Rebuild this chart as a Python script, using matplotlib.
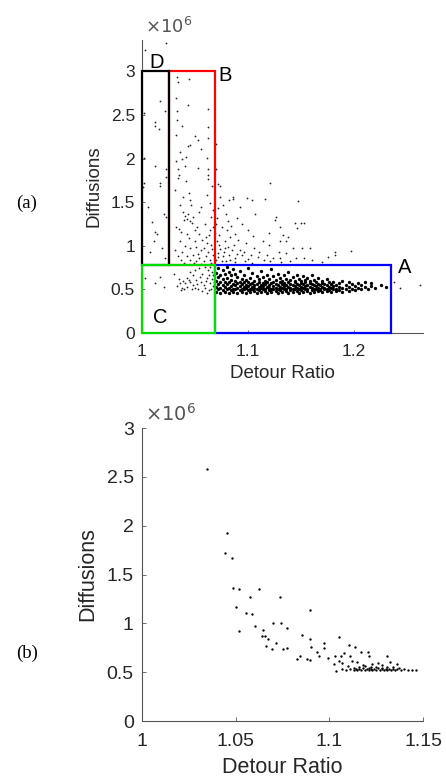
import matplotlib
matplotlib.use("Agg")
from matplotlib import pyplot as plt
from matplotlib.patches import Rectangle

plt.rcParams['font.family'] = ['Liberation Sans', 'DejaVu Sans']

# ---- (a) all routes: scattered points (detour ratio, diffusions in 1e6) ----
top_sparse = [
    (1.0026, 3.24), (1.023, 3.33), (1.0167, 2.66), (1.0214, 2.55), (1.002, 2.52),
    (1.0126, 2.42), (1.012, 2.37), (1.0158, 2.34), (1.002, 2.01), (1.0126, 1.91),
    (1.023, 1.885), (1.0225, 1.79), (1.002, 1.72), (1.017, 1.72), (1.0205, 1.37),
    (1.0126, 1.16), (1.014, 1.14), (1.023, 1.33), (1.001, 1.67), (1.017, 1.69),
    (1.0075, 0.93), (1.011, 1.05), (1.006, 1.45), (1.019, 0.98), (1.022, 0.86),
    (1.009, 1.27),
    (1.0334, 2.94), (1.0443, 2.91), (1.0338, 2.88), (1.0324, 2.69), (1.0434, 2.61),
    (1.0623, 2.57), (1.033, 2.55), (1.0334, 2.44), (1.038, 2.37), (1.0623, 2.36),
    (1.0325, 2.27), (1.0497, 2.26), (1.0528, 2.21), (1.045, 2.16), (1.0623, 2.24),
    (1.0434, 2.14), (1.0554, 2.11), (1.0356, 2.08), (1.0419, 2.02), (1.038, 2.0),
    (1.0616, 2.01), (1.0325, 1.97), (1.0403, 1.91), (1.0528, 1.89), (1.0335, 1.88),
    (1.0623, 1.88), (1.0345, 1.81), (1.0623, 1.81), (1.034, 1.78), (1.0623, 1.77),
    (1.0419, 1.74), (1.045, 1.53), (1.046, 1.47), (1.036, 1.47), (1.039, 1.39),
    (1.043, 1.37), (1.042, 1.31), (1.045, 1.29), (1.048, 1.33), (1.054, 1.39),
    (1.059, 1.25), (1.064, 1.49), (1.0324, 1.22), (1.037, 1.16), (1.042, 1.14),
    (1.0497, 1.18), (1.054, 1.14), (1.06, 1.10), (1.064, 1.18), (1.036, 1.06),
    (1.0403, 1.0), (1.045, 0.97), (1.051, 0.99), (1.056, 0.95), (1.062, 0.93),
    (1.031, 0.95), (1.034, 0.88), (1.042, 0.88), (1.048, 0.90), (1.054, 0.86),
    (1.06, 0.88), (1.064, 0.84), (1.037, 0.84), (1.045, 0.84), (1.051, 0.82),
    (1.058, 0.82), (1.065, 1.01), (1.065, 1.33), (1.066, 1.68), (1.031, 1.64),
    (1.039, 1.56), (1.044, 1.60), (1.040, 1.30), (1.041, 1.34), (1.047, 1.26),
    (1.052, 1.22), (1.057, 1.07), (1.061, 1.03), (1.066, 0.96), (1.067, 0.89),
    (1.063, 1.12), (1.050, 1.05), (1.044, 1.09), (1.038, 0.93), (1.053, 0.91),
    (1.058, 0.98), (1.067, 1.22), (1.067, 1.41), (1.061, 1.58), (1.056, 1.45),
    (1.035, 1.19), (1.049, 0.80), (1.04, 0.80), (1.065, 0.80), (1.056, 0.79),
    (1.0702, 2.17), (1.07, 1.88), (1.0733, 1.68), (1.1205, 1.72), (1.0717, 1.71),
    (1.0733, 1.56), (1.0717, 1.43), (1.076, 1.47), (1.0796, 1.37), (1.0858, 1.54),
    (1.092, 1.45), (1.07, 1.25), (1.075, 1.22), (1.08, 1.18), (1.084, 1.23),
    (1.088, 1.14), (1.094, 1.25), (1.1, 1.18), (1.073, 1.12), (1.078, 1.06),
    (1.073, 1.01), (1.081, 0.99), (1.087, 1.01), (1.092, 0.95), (1.098, 1.03),
    (1.106, 0.97), (1.114, 1.06), (1.12, 1.01), (1.129, 0.93), (1.136, 1.06),
    (1.072, 0.92), (1.076, 0.88), (1.082, 0.90), (1.088, 0.86), (1.094, 0.89),
    (1.1, 0.85), (1.109, 0.87), (1.115, 0.84), (1.124, 0.86), (1.07, 0.84),
    (1.079, 0.82), (1.107, 1.37), (1.126, 1.33), (1.104, 1.52), (1.147, 1.51),
    (1.144, 1.26), (1.153, 1.26), (1.146, 1.20), (1.138, 1.10), (1.13, 1.22),
    (1.13, 1.06), (1.142, 0.97), (1.151, 0.97), (1.158, 0.97), (1.182, 0.93),
    (1.197, 0.94), (1.136, 0.92), (1.153, 0.86), (1.175, 0.87), (1.182, 0.89),
    (1.13, 0.86), (1.145, 0.86), (1.125, 1.30), (1.15, 1.26), (1.086, 1.56),
    (1.099, 1.55), (1.116, 1.54), (1.082, 1.53), (1.133, 1.12), (1.071, 1.05),
    (1.074, 0.96), (1.077, 0.93), (1.072, 0.87), (1.075, 0.83), (1.083, 0.84),
    (1.085, 0.95), (1.090, 0.91), (1.096, 0.93), (1.103, 0.90), (1.110, 0.93),
    (1.118, 0.90), (1.121, 0.82), (1.131, 0.81), (1.140, 0.83), (1.160, 0.84),
    (1.170, 0.81), (1.088, 0.81), (1.097, 0.82), (1.104, 0.80), (1.078, 0.98),
    (1.083, 1.10), (1.091, 1.07), (1.069, 1.15), (1.071, 1.32), (1.081, 1.28),
    (1.09, 1.32), (1.12, 1.15), (1.105, 1.11), (1.238, 0.58), (1.262, 0.55),
    (1.243, 0.52),
    (1.0356, 0.57), (1.039, 0.60), (1.042, 0.63), (1.045, 0.58), (1.048, 0.55),
    (1.051, 0.61), (1.056, 0.58), (1.061, 0.63), (1.064, 0.57), (1.042, 0.53),
    (1.053, 0.50), (1.059, 0.52), (1.065, 0.50), (1.048, 0.66), (1.057, 0.68),
    (1.062, 0.72), (1.054, 0.74), (1.045, 0.70), (1.037, 0.49), (1.061, 0.46),
    (1.017, 0.64), (1.03, 0.68), (1.021, 0.53), (1.012, 0.57), (1.003, 0.63),
    (1.033, 0.54), (1.040, 0.50), (1.044, 0.61), (1.050, 0.52), (1.052, 0.56),
    (1.055, 0.64), (1.058, 0.55), (1.060, 0.60), (1.063, 0.66), (1.066, 0.62),
    (1.067, 0.54), (1.066, 0.70), (1.064, 0.76), (1.059, 0.76), (1.050, 0.72),
    (1.047, 0.50), (1.057, 0.48), (1.063, 0.49), (1.041, 0.57), (1.038, 0.52),
    (1.068, 0.58), (1.067, 0.66), (1.035, 0.62),
]

# dense band of the main cluster: detour ratio -> diffusions (1e6)
top_core = [
    (1.070, [0.47, 0.53, 0.60, 0.69]), (1.072, [0.50, 0.56, 0.64, 0.75]),
    (1.074, [0.46, 0.52, 0.58, 0.66]), (1.076, [0.49, 0.55, 0.62, 0.72]),
    (1.078, [0.47, 0.53, 0.59, 0.68]), (1.080, [0.50, 0.56, 0.63, 0.76]),
    (1.082, [0.46, 0.52, 0.58, 0.70]), (1.084, [0.49, 0.54, 0.61, 0.66]),
    (1.086, [0.47, 0.51, 0.56, 0.73]), (1.088, [0.50, 0.55, 0.60, 0.68]),
    (1.090, [0.46, 0.52, 0.57, 0.64]), (1.092, [0.49, 0.54, 0.59, 0.71]),
    (1.094, [0.47, 0.51, 0.56, 0.62]), (1.096, [0.50, 0.53, 0.58, 0.67]),
    (1.098, [0.46, 0.52, 0.55, 0.61]), (1.100, [0.49, 0.54, 0.59, 0.74]),
    (1.102, [0.47, 0.51, 0.56, 0.63]), (1.104, [0.50, 0.53, 0.57, 0.69]),
    (1.106, [0.48, 0.52, 0.55, 0.60]), (1.108, [0.46, 0.51, 0.56, 0.65]),
    (1.110, [0.49, 0.53, 0.58, 0.62]), (1.112, [0.47, 0.52, 0.55, 0.71]),
    (1.114, [0.50, 0.54, 0.57, 0.64]), (1.116, [0.48, 0.51, 0.56, 0.60]),
    (1.118, [0.46, 0.53, 0.58, 0.67]), (1.120, [0.49, 0.52, 0.55, 0.62]),
    (1.122, [0.47, 0.51, 0.57, 0.73]), (1.124, [0.50, 0.54, 0.59, 0.65]),
    (1.126, [0.48, 0.52, 0.56, 0.61]), (1.128, [0.46, 0.51, 0.55, 0.68]),
    (1.130, [0.49, 0.53, 0.58, 0.63]), (1.132, [0.47, 0.52, 0.56, 0.60]),
    (1.134, [0.50, 0.54, 0.57, 0.66]), (1.136, [0.48, 0.51, 0.55, 0.62]),
    (1.138, [0.46, 0.53, 0.58, 0.70]), (1.140, [0.49, 0.52, 0.56, 0.61]),
    (1.142, [0.47, 0.51, 0.55, 0.64]), (1.144, [0.50, 0.54, 0.58, 0.60]),
    (1.146, [0.48, 0.52, 0.56, 0.67]), (1.148, [0.46, 0.51, 0.55, 0.62]),
    (1.150, [0.49, 0.53, 0.57, 0.60]), (1.152, [0.47, 0.52, 0.56, 0.65]),
    (1.154, [0.50, 0.54, 0.58, 0.61]), (1.156, [0.48, 0.51, 0.55, 0.63]),
    (1.158, [0.46, 0.53, 0.57, 0.60]), (1.160, [0.49, 0.52, 0.56, 0.66]),
    (1.162, [0.47, 0.51, 0.55, 0.61]), (1.164, [0.50, 0.54, 0.58]),
    (1.166, [0.48, 0.52, 0.56, 0.63]), (1.168, [0.49, 0.51, 0.55]),
    (1.170, [0.47, 0.53, 0.57, 0.60]), (1.172, [0.50, 0.52, 0.56]),
    (1.174, [0.48, 0.51, 0.55, 0.62]), (1.176, [0.49, 0.53, 0.58]),
    (1.178, [0.47, 0.52, 0.56]), (1.180, [0.50, 0.54, 0.59]),
    (1.183, [0.48, 0.51, 0.55]), (1.186, [0.49, 0.53, 0.57]),
    (1.189, [0.47, 0.52, 0.60]), (1.192, [0.50, 0.55]),
    (1.195, [0.48, 0.53, 0.58]), (1.198, [0.51, 0.56]),
    (1.201, [0.49, 0.54]), (1.204, [0.52, 0.57]),
    (1.207, [0.50, 0.55]), (1.210, [0.53, 0.59]),
    (1.213, [0.51]), (1.216, [0.54, 0.57]),
    (1.220, [0.52]), (1.225, [0.55]), (1.230, [0.53]),
]

# region boundaries: detour ratio cuts and diffusion cuts (1e6)
ratio_cuts = [1.0, 1.0255, 1.0686, 1.235]
diff_cuts = [0.0, 0.78, 3.0]
region_names = ['A', 'B', 'C', 'D']

# ---- (b) subset ----
bot_points = [
    (1.0348, 2.576), (1.0455, 1.93), (1.0444, 1.72), (1.0481, 1.67), (1.0485, 1.358),
    (1.052, 1.35), (1.0624, 1.35), (1.0576, 1.266), (1.0736, 1.266), (1.0503, 1.17),
    (1.0897, 1.135), (1.0553, 1.11), (1.0588, 1.10), (1.0603, 0.975), (1.070, 1.0),
    (1.074, 1.006), (1.0772, 0.955), (1.0519, 0.924), (1.0647, 0.93), (1.0638, 0.873),
    (1.0659, 0.873), (1.0674, 0.836), (1.0662, 0.77), (1.0713, 0.795), (1.0692, 0.734),
    (1.075, 0.734), (1.0772, 0.75), (1.0852, 0.883), (1.0897, 0.836), (1.09, 0.76),
    (1.0972, 0.795), (1.0972, 0.75), (1.0936, 0.703), (1.0945, 0.665), (1.0843, 0.665),
    (1.083, 0.63), (1.0882, 0.63), (1.0897, 0.62), (1.0993, 0.64), (1.1054, 0.863),
    (1.103, 0.665), (1.1025, 0.58), (1.1034, 0.515), (1.1064, 0.665), (1.108, 0.70),
    (1.1105, 0.778), (1.1137, 0.76), (1.111, 0.665), (1.1123, 0.614), (1.1168, 0.71),
    (1.1209, 0.71), (1.1214, 0.665), (1.1262, 0.59), (1.131, 0.665), (1.1325, 0.60),
    (1.136, 0.58), (1.107, 0.59), (1.105, 0.614), (1.115, 0.60), (1.118, 0.57),
    (1.123, 0.58), (1.128, 0.57),
    (1.107, 0.53), (1.109, 0.525), (1.111, 0.53), (1.113, 0.52), (1.114, 0.535),
    (1.115, 0.525), (1.116, 0.53), (1.117, 0.52), (1.118, 0.54), (1.119, 0.525),
    (1.120, 0.53), (1.121, 0.52), (1.122, 0.535), (1.123, 0.525), (1.124, 0.53),
    (1.125, 0.52), (1.126, 0.54), (1.127, 0.525), (1.128, 0.53), (1.129, 0.52),
    (1.130, 0.535), (1.131, 0.525), (1.132, 0.53), (1.133, 0.52), (1.134, 0.535),
    (1.135, 0.525), (1.136, 0.53), (1.138, 0.525), (1.140, 0.53), (1.142, 0.52),
    (1.144, 0.525), (1.146, 0.52), (1.116, 0.55), (1.119, 0.56), (1.122, 0.555),
    (1.125, 0.55), (1.128, 0.545), (1.131, 0.555), (1.134, 0.55), (1.121, 0.545),
    (1.113, 0.545), (1.110, 0.56), (1.137, 0.545),
]

axis_grey = '#262626'

fig = plt.figure(figsize=(4.46, 7.82), dpi=100)
W, H = 446.0, 782.0
ax1 = fig.add_axes([142 / W, 1 - 333 / H, 281 / W, 293 / H])
ax2 = fig.add_axes([142 / W, 1 - 721 / H, 281 / W, 293 / H])

for ax in (ax1, ax2):
    ax.spines['top'].set_visible(False)
    ax.spines['right'].set_visible(False)
    for s in ('left', 'bottom'):
        ax.spines[s].set_color('#555555')
        ax.spines[s].set_linewidth(0.8)

# --- top panel ---
sx = [p[0] for p in top_sparse]
sy = [p[1] for p in top_sparse]
cx = [x for x, ys in top_core for _ in ys]
cy = [y for _, ys in top_core for y in ys]
ax1.plot(sx, sy, 'o', color='black', ms=1.3, mew=0, alpha=0.85)
ax1.plot(cx, cy, 'o', color='black', ms=2.4, mew=0)

r0, r1, r2, r3 = ratio_cuts
d0, d1, d2 = diff_cuts
boxes = [
    ((r2, d0), r3 - r2, d1 - d0, 'blue'),    # A
    ((r1, d1), r2 - r1, d2 - d1, 'red'),     # B
    ((r0, d1), r1 - r0, d2 - d1, 'black'),   # D
    ((r0, d0), r2 - r0, d1 - d0, '#00dd00'), # C
]
for xy, w, h, c in boxes:
    ax1.add_patch(Rectangle(xy, w, h, fill=False, edgecolor=c, lw=1.6,
                            clip_on=False, zorder=3))

ax1.text(r3 + 0.006, d1 - 0.03, 'A', fontsize=14.5, va='center', ha='left')
ax1.text(r2 + 0.003, d2 - 0.05, 'B', fontsize=14.5, va='center', ha='left')
ax1.text(r0 + 0.010, 0.18, 'C', fontsize=14.5, va='center', ha='left')
ax1.text(r0 + 0.007, d2 + 0.10, 'D', fontsize=14.5, va='center', ha='left')

ax1.set_xlim(1.0, 1.265)
ax1.set_ylim(0, 3.36)
ax1.set_xticks([1, 1.1, 1.2])
ax1.set_xticklabels(['1', '1.1', '1.2'])
ax1.set_yticks([0, 0.5, 1, 1.5, 2, 2.5, 3])
ax1.set_yticklabels(['0', '0.5', '1', '1.5', '2', '2.5', '3'])
ax1.tick_params(direction='in', length=2.5, width=0.6, color='#555555',
                labelcolor=axis_grey, labelsize=12.5)
ax1.tick_params(axis='x', pad=8)
ax1.tick_params(axis='y', pad=5)
ax1.set_xlabel('Detour Ratio', fontsize=13.5, color=axis_grey, labelpad=4)
ax1.set_ylabel('Diffusions', fontsize=13.5, color=axis_grey, labelpad=6)
ax1.text(0.01, 1.01, r'$\times10^{6}$', transform=ax1.transAxes,
         fontsize=13, color='#555555', va='bottom', ha='left')

# --- bottom panel ---
bx = [p[0] for p in bot_points]
by = [p[1] for p in bot_points]
ax2.plot(bx, by, 'o', color='black', ms=1.7, mew=0)
ax2.set_xlim(1.0, 1.15)
ax2.set_ylim(0, 3)
ax2.set_xticks([1, 1.05, 1.1, 1.15])
ax2.set_xticklabels(['1', '1.05', '1.1', '1.15'])
ax2.set_yticks([0, 0.5, 1, 1.5, 2, 2.5, 3])
ax2.set_yticklabels(['0', '0.5', '1', '1.5', '2', '2.5', '3'])
ax2.tick_params(direction='in', length=2.7, width=0.6, color='#555555',
                labelcolor=axis_grey, labelsize=14)
ax2.tick_params(axis='x', pad=9)
ax2.tick_params(axis='y', pad=6)
ax2.set_xlabel('Detour Ratio', fontsize=15.5, color=axis_grey, labelpad=5)
ax2.set_ylabel('Diffusions', fontsize=15.5, color=axis_grey, labelpad=6)
ax2.text(0.01, 1.01, r'$\times10^{6}$', transform=ax2.transAxes,
         fontsize=14, color='#555555', va='bottom', ha='left')

fig.text(27 / W, 1 - 203 / H, '(a)', family='Liberation Serif', fontsize=13.5,
         ha='center', va='center')
fig.text(27 / W, 1 - 653 / H, '(b)', family='Liberation Serif', fontsize=13.5,
         ha='center', va='center')

fig.savefig('out.png', dpi=100)
